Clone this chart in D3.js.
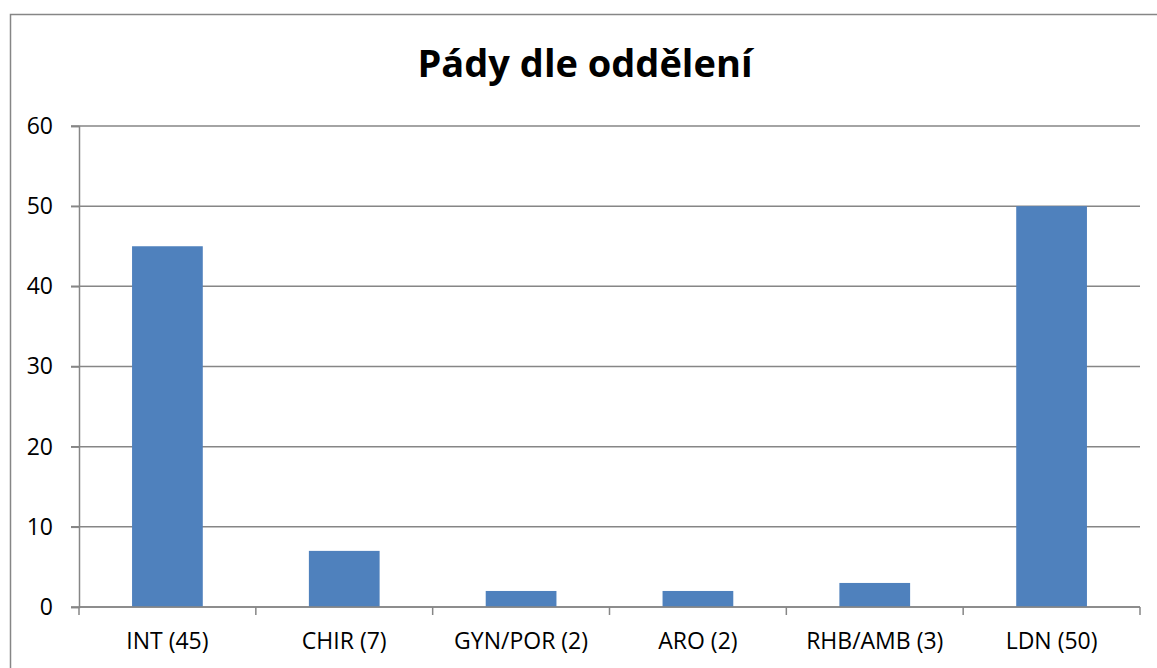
<!DOCTYPE html>
<html>
<head>
	<meta charset="utf-8">
	<title>Pády dle oddělení</title>
	<script src="https://d3js.org/d3.v7.min.js"></script>
	<style>
		body { margin: 0; background: #fff; }
		text { font-family: "Open Sans", "DejaVu Sans", sans-serif; fill: #000; }
	</style>
</head>
<body>
</body>
<script>
	var categories = ["INT (45)", "CHIR (7)", "GYN/POR (2)", "ARO (2)", "RHB/AMB (3)", "LDN (50)"];
	var values = [45, 7, 2, 2, 3, 50];
	var yTicks = [0, 10, 20, 30, 40, 50, 60];
	var title = "Pády dle oddělení";

	var width = 1157, height = 668;
	var plotLeft = 79, plotRight = 1140, plotTop = 126, plotBottom = 607;

	var svg = d3.select("body").append("svg").attr("width", width).attr("height", height);

	// outer chart border (runs off the right and bottom edges)
	svg.append("rect").attr("x", 10.5).attr("y", 14.5).attr("width", 1200).attr("height", 700)
		.attr("fill", "none").attr("stroke", "#868686").attr("stroke-width", 1.5);

	svg.append("text").attr("x", 585).attr("y", 77).attr("text-anchor", "middle")
		.attr("font-size", "38px").attr("font-weight", "bold").text(title);

	var xScale = d3.scaleBand().domain(categories).range([plotLeft, plotRight]).paddingInner(0.6).paddingOuter(0.3);
	var yScale = d3.scaleLinear().domain([0, 60]).range([plotBottom, plotTop]);

	// gridlines
	svg.append("g").selectAll("line").data(yTicks).enter().append("line")
		.attr("x1", plotLeft - 8).attr("x2", plotRight)
		.attr("y1", function(d){ return yScale(d); }).attr("y2", function(d){ return yScale(d); })
		.attr("stroke", "#868686").attr("stroke-width", 1.5);

	// bars
	svg.append("g").selectAll("rect").data(values).enter().append("rect")
		.attr("x", function(d, i){ return xScale(categories[i]); })
		.attr("y", function(d){ return yScale(d); })
		.attr("width", xScale.bandwidth())
		.attr("height", function(d){ return yScale(0) - yScale(d); })
		.attr("fill", "#4F81BD");

	// y axis
	var yAxisG = svg.append("g").attr("transform", "translate(" + plotLeft + ",0)")
		.call(d3.axisLeft(yScale).tickValues(yTicks).tickSize(8).tickPadding(18));
	yAxisG.select(".domain").attr("stroke", "#868686").attr("stroke-width", 1.5);
	yAxisG.selectAll(".tick line").attr("stroke", "#868686").attr("stroke-width", 1.5);
	yAxisG.selectAll("text").attr("font-size", "23px").attr("font-family", "Open Sans").attr("fill", "#000");

	// x axis with ticks between categories
	var xLine = d3.scaleLinear().domain([0, categories.length]).range([plotLeft, plotRight]);
	svg.append("g").selectAll("line").data(d3.range(categories.length + 1)).enter().append("line")
		.attr("x1", function(d){ return xLine(d); }).attr("x2", function(d){ return xLine(d); })
		.attr("y1", plotBottom).attr("y2", plotBottom + 8)
		.attr("stroke", "#868686").attr("stroke-width", 1.5);
	svg.append("line").attr("x1", plotLeft).attr("x2", plotRight).attr("y1", plotBottom).attr("y2", plotBottom)
		.attr("stroke", "#868686").attr("stroke-width", 1.5);

	svg.append("g").selectAll("text").data(categories).enter().append("text")
		.attr("x", function(d){ return xScale(d) + xScale.bandwidth() / 2; })
		.attr("y", 649).attr("text-anchor", "middle").attr("font-size", "23px")
		.text(function(d){ return d; });
</script>
</html>
